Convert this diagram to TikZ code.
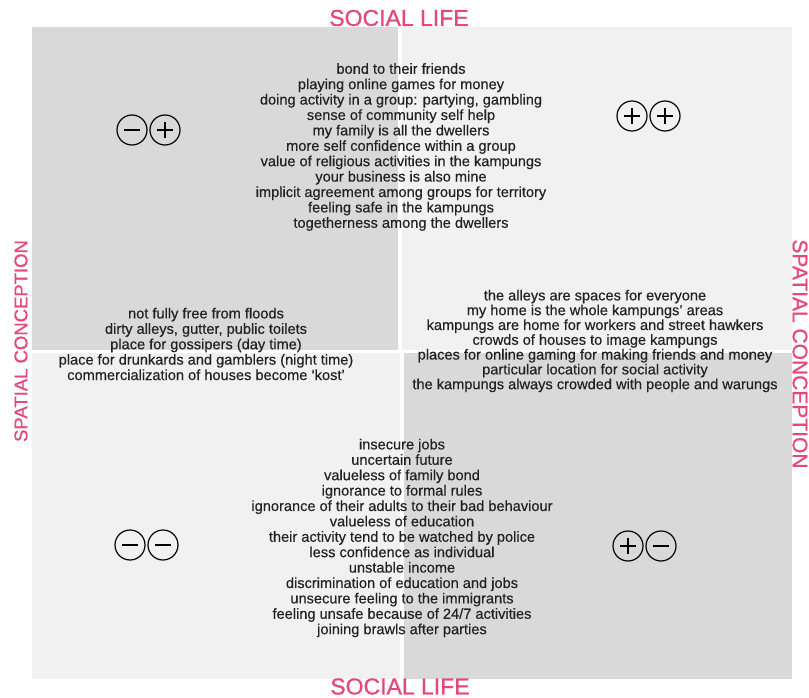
\documentclass[tikz,border=0pt]{standalone}
\usepackage{fontspec}
\setmainfont{Liberation Sans}
\newfontfamily\bodyfont[FakeBold=0.35,Ligatures=TeX]{Liberation Sans}
\newfontfamily\lblfont[FakeBold=0.9]{Liberation Sans}
\definecolor{darkq}{HTML}{D9D9D9}
\definecolor{lightq}{HTML}{F1F1F1}
\definecolor{pinkl}{RGB}{228,72,126}
\definecolor{txt}{HTML}{222222}
\tikzset{
  body/.style={align=center, inner sep=0pt, text=txt, font=\bodyfont\fontsize{14.6}{15.4}\selectfont},
  axislbl/.style={inner sep=0pt, text=pinkl},
  sgn/.style={circle, draw=black, line width=1.2pt, minimum size=30pt, inner sep=0pt},
  possign/.style={sgn, path picture={
      \draw[line width=2.8pt] ([xshift=-8pt]path picture bounding box.center) -- ([xshift=8pt]path picture bounding box.center);
      \draw[line width=2.8pt] ([yshift=-8pt]path picture bounding box.center) -- ([yshift=8pt]path picture bounding box.center);}},
  negsign/.style={sgn, path picture={
      \draw[line width=2.8pt] ([xshift=-8pt]path picture bounding box.center) -- ([xshift=8pt]path picture bounding box.center);}},
}
\begin{document}
\begin{tikzpicture}[x=1pt,y=-1pt]
\useasboundingbox (0,0) rectangle (809,698);
\fill[white] (0,0) rectangle (809,698);
% quadrants
\fill[darkq] (32,27) rectangle (398,350);
\fill[lightq] (402,27) rectangle (792,350);
\fill[lightq] (32,353) rectangle (400,679);
\fill[darkq] (404,353) rectangle (792,679);

% axis labels
\node[axislbl, font=\lblfont\fontsize{23}{23}\selectfont] (topl) at (399,18) {SOCIAL LIFE};
\node[axislbl, font=\lblfont\fontsize{23}{23}\selectfont] (botl) at (400,686.5) {SOCIAL LIFE};
\node[axislbl, font=\lblfont\fontsize{18.5}{18.5}\selectfont, rotate=90] (leftl) at (21,341) {SPATIAL CONCEPTION};
\node[axislbl, font=\lblfont\fontsize{21}{21}\selectfont, rotate=-90] (rightl) at (800,354) {SPATIAL CONCEPTION};

% sign pairs
\node[negsign] (tla) at (132,130) {};
\node[possign] (tlb) at (165,130) {};
\node[possign] (tra) at (632,116) {};
\node[possign] (trb) at (665,116) {};
\node[negsign] (bla) at (130,545) {};
\node[negsign] (blb) at (163,545) {};
\node[possign] (bra) at (628,546) {};
\node[negsign] (brb) at (661,546) {};

% texts
\node[body] (toptext) at (401,147) {bond to their friends\\
playing online games for money\\
doing activity in a group: partying, gambling\\
sense of community self help\\
my family is all the dwellers\\
more self confidence within a group\\
value of religious activities in the kampungs\\
your business is also mine\\
implicit agreement among groups for territory\\
feeling safe in the kampungs\\
togetherness among the dwellers};

\node[body] (lefttext) at (206,344) {not fully free from floods\\
dirty alleys, gutter, public toilets\\
place for gossipers (day time)\\
place for drunkards and gamblers (night time)\\
commercialization of houses become ‘kost’};

\node[body, font=\bodyfont\fontsize{14.6}{14.8}\selectfont] (righttext) at (595,341) {the alleys are spaces for everyone\\
my home is the whole kampungs’ areas\\
kampungs are home for workers and street hawkers\\
crowds of houses to image kampungs\\
places for online gaming for making friends and money\\
particular location for social activity\\
the kampungs always crowded with people and warungs};

\node[body] (bottext) at (402,538) {insecure jobs\\
uncertain future\\
valueless of family bond\\
ignorance to formal rules\\
ignorance of their adults to their bad behaviour\\
valueless of education\\
their activity tend to be watched by police\\
less confidence as individual\\
unstable income\\
discrimination of education and jobs\\
unsecure feeling to the immigrants\\
feeling unsafe because of 24/7 activities\\
joining brawls after parties};
\end{tikzpicture}
\end{document}
